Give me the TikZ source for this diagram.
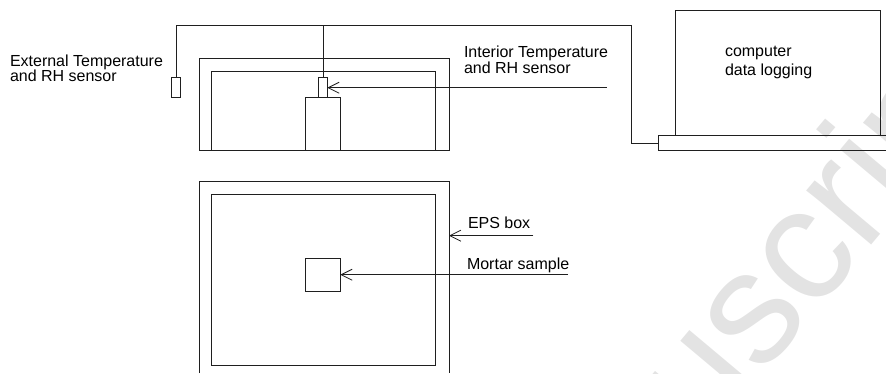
\documentclass[tikz,border=0pt]{standalone}
\usepackage{fontspec}
\setmainfont{Liberation Sans}
\usetikzlibrary{arrows.meta}
\definecolor{wm}{gray}{0.89}
\definecolor{ln}{gray}{0.12}
\tikzset{
  x=1pt,y=-1pt,
  ln/.style={draw=ln,line width=0.95pt},
  box/.style={ln,rectangle,inner sep=0pt,outer sep=0pt,anchor=north west},
  lab/.style={inner sep=0pt,outer sep=0pt,anchor=base west,align=left,font=\fontsize{16}{16}\selectfont,text=black},
  pointer/.style={draw=ln,line width=0.95pt,-{Straight Barb[length=11pt,width=11pt,line width=0.8pt]}},
}
\begin{document}
\begin{tikzpicture}
\useasboundingbox (0,0) rectangle (886,373);
% watermark
\begin{scope}
\clip (0,0) rectangle (886,373);
\node (wmark) [inner sep=0pt,rotate=50,text=wm,anchor=base west,font=\fontsize{160}{160}\selectfont] at (704.3,444.6) {uscript};
\end{scope}
% top section
\coordinate (otl) at (199,58.3); \coordinate (otr) at (449,58.3);
\node (outerT) [box,minimum width=250pt,minimum height=92.4pt] at (otl) {};
\node (innerT) [box,minimum width=224pt,minimum height=79.4pt] at (211.7,71.3) {};
\node (holder) [box,minimum width=35pt,minimum height=53.4pt] at (305.3,97.3) {};
\node (intS) [box,minimum width=8.6pt,minimum height=19.6pt] at (318.7,77.7) {};
\node (extS) [box,minimum width=8.6pt,minimum height=19.6pt] at (171.7,77.7) {};
% laptop
\node (screen) [box,minimum width=204.7pt,minimum height=125pt] at (675.3,10.3) {};
\node (base) [box,minimum width=240pt,minimum height=15pt] at (658.7,135.3) {};
% wiring
\coordinate (wl) at (176,25.3);
\coordinate (wb) at (323,25.3);
\coordinate (wr) at (631.7,25.3);
\coordinate (wd) at (631.7,143);
\draw[ln] (extS.north) -- (extS.north |- wl) -- (wr) -- (wd) -- (base.west |- wd);
\draw[ln] (intS.north) -- (intS.north |- wb);
% bottom section
\coordinate (olb) at (199,373); \coordinate (orb) at (449,373);
\coordinate (olt) at (199,181); \coordinate (ort) at (449,181);
\draw[ln] (olb) -- (olt) -- (ort) -- (orb);
\node (innerB) [box,minimum width=224pt,minimum height=171.7pt] at (211.7,194) {};
\node (sample) [box,minimum width=35pt,minimum height=33.3pt] at (305.3,258) {};
% leaders
\coordinate (li) at (606.7,87.7);
\coordinate (le) at (533.3,235.7);
\coordinate (lm) at (568,274.7);
\draw[pointer] (li) -- (intS.east |- li);
\draw[pointer] (le) -- (ort |- le);
\draw[pointer] (lm) -- (sample.east |- lm);
% labels
\node (t1a) [lab] at (10,66) {External Temperature};
\node (t1b) [lab] at (10,81) {and RH sensor};
\node (t2a) [lab] at (464,57) {Interior Temperature};
\node (t2b) [lab] at (464,73) {and RH sensor};
\node (t3a) [lab] at (725,56) {computer};
\node (t3b) [lab] at (725,75) {data logging};
\node (t4) [lab] at (468,228) {EPS box};
\node (t5) [lab] at (467,269) {Mortar sample};
\end{tikzpicture}
\end{document}
